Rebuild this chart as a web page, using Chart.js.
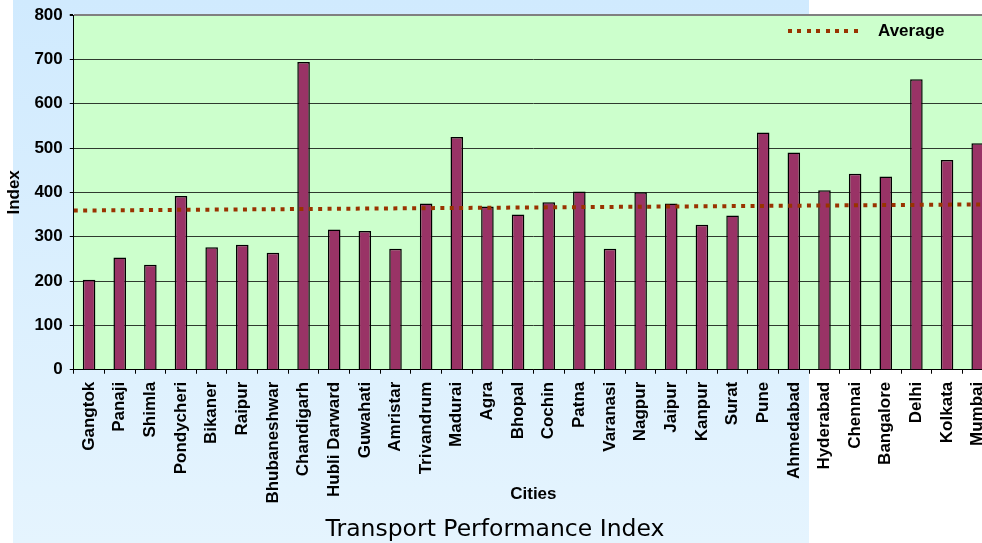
<!DOCTYPE html>
<html>
<head>
<meta charset="utf-8">
<script src="https://cdn.jsdelivr.net/npm/chart.js@4"></script>
<style>
  html, body { margin: 0; padding: 0; width: 982px; height: 543px; overflow: hidden; background: #fff; }
  #backdrop { position: absolute; left: 13px; top: 0; width: 796px; height: 543px;
              background: linear-gradient(#d0eafe, #e5f4fe); }
  #wrap { position: absolute; left: 0; top: 0; width: 1003px; height: 543px; }
  #legend { position: absolute; left: 788px; top: 20px; height: 22px; display: flex; align-items: center;
            font: bold 17px "Liberation Sans", Arial, sans-serif; color: #000; }
  #legend .swatch { width: 75px; height: 4px; margin-right: 15px;
                    background: repeating-linear-gradient(90deg, #993300 0 4px, transparent 4px 9.4px); }
  #title { position: absolute; left: 295px; width: 400px; top: 517px; text-align: center;
           font: 23.5px "DejaVu Sans", sans-serif; line-height: 1; color: #000; white-space: nowrap; }
</style>
</head>
<body>
<div id="backdrop"></div>
<div id="wrap"><canvas id="chart"></canvas></div>
<div id="legend"><span class="swatch"></span><span>Average</span></div>
<div id="title">Transport Performance Index</div>
<script>
'use strict';

// ── Data ─────────────────────────────────────────────────────────────
const cities = [
  'Gangtok', 'Panaji', 'Shimla', 'Pondycheri', 'Bikaner', 'Raipur', 'Bhubaneshwar',
  'Chandigarh', 'Hubli Darward', 'Guwahati', 'Amristar', 'Trivandrum', 'Madurai', 'Agra',
  'Bhopal', 'Cochin', 'Patna', 'Varanasi', 'Nagpur', 'Jaipur', 'Kanpur', 'Surat', 'Pune',
  'Ahmedabad', 'Hyderabad', 'Chennai', 'Bangalore', 'Delhi', 'Kolkata', 'Mumbai',
];
const indexValues = [
  203, 253, 237, 392, 276, 282, 264,
  694, 316, 313, 273, 375, 525, 368,
  350, 378, 402, 273, 400, 375, 327, 348, 535,
  490, 405, 442, 436, 655, 473, 511,
];
// Average line runs edge to edge of the plot: value at left edge, value at right edge
const averageEnds = [359, 373];
const yTicks = [0, 100, 200, 300, 400, 500, 600, 700, 800];

// ── Chart defaults ───────────────────────────────────────────────────
Chart.defaults.font.family = '"Liberation Sans", Arial, sans-serif';
Chart.defaults.font.size = 17;
Chart.defaults.font.weight = 'bold';
Chart.defaults.color = '#000';

const plotBackground = {
  id: 'plotBackground',
  beforeDraw(chart) {
    const { ctx, chartArea: a } = chart;
    ctx.save();
    ctx.fillStyle = '#ccffcc';
    ctx.fillRect(a.left, a.top, a.width, a.height);
    ctx.restore();
  },
};

const ctx = document.getElementById('chart').getContext('2d');
new Chart(ctx, {
  type: 'bar',
  data: {
    labels: cities,
    datasets: [
      {
        type: 'line',
        label: 'Average',
        xAxisID: 'xLine',
        data: [
          { x: 0, y: averageEnds[0] },
          { x: cities.length, y: averageEnds[1] },
        ],
        borderColor: '#993300',
        borderWidth: 4,
        borderDash: [4, 5.4],
        pointRadius: 0,
        fill: false,
        order: 1,
      },
      {
        label: 'Index',
        data: indexValues,
        backgroundColor: '#993366',
        borderColor: '#000',
        borderWidth: 1.5,
        barPercentage: 0.41,
        categoryPercentage: 1,
        grouped: false,
        order: 2,
      },
    ],
  },
  options: {
    responsive: true,
    maintainAspectRatio: false,
    animation: false,
    layout: { padding: { top: 15, left: 0, right: 10, bottom: 23 } },
    plugins: {
      legend: { display: false },
      tooltip: { enabled: false },
    },
    scales: {
      x: {
        offset: true,
        afterFit: axis => { axis.paddingLeft = 0; axis.paddingRight = 0; },
        grid: { display: true, drawOnChartArea: false, tickLength: 4, tickColor: '#000', offset: true },
        border: { color: '#000', width: 1 },
        ticks: { autoSkip: false, minRotation: 90, maxRotation: 90, padding: 8 },
        title: { display: true, text: 'Cities', padding: { top: -27, bottom: 15 } },
      },
      xLine: {
        type: 'linear',
        display: false,
        offset: false,
        grid: { offset: false },
        min: 0,
        max: cities.length,
      },
      y: {
        min: yTicks[0],
        max: yTicks[yTicks.length - 1],
        afterBuildTicks: axis => { axis.ticks = yTicks.map(v => ({ value: v })); },
        afterFit: axis => { axis.paddingTop = 0; axis.paddingBottom = 0; },
        grid: {
          color: c => (c.tick && c.tick.value === 800 ? '#808080' : '#2e3a2e'),
          lineWidth: c => (c.tick && c.tick.value === 800 ? 2 : 1),
          tickLength: 4,
          tickColor: '#000',
        },
        border: { color: '#000', width: 1 },
        ticks: { padding: 7 },
        title: { display: true, text: 'Index', padding: { top: 4, bottom: 3 } },
      },
    },
  },
  plugins: [plotBackground],
});
</script>
</body>
</html>
